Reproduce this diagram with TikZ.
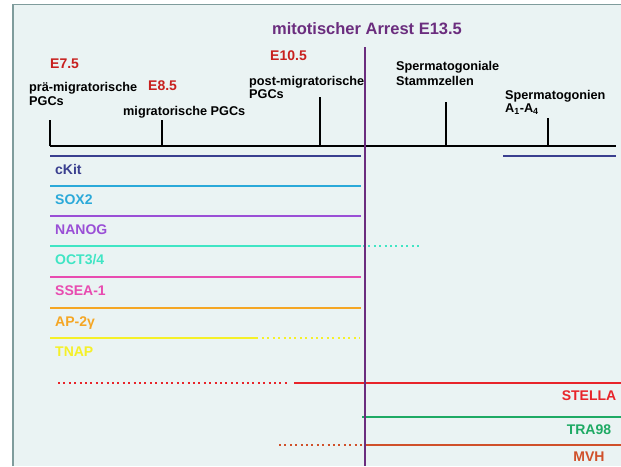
\documentclass[tikz,border=0pt]{standalone}
\usepackage{fontspec}
\setmainfont{Liberation Sans}
\definecolor{slidebg}{RGB}{234,243,243}
\definecolor{slideframe}{RGB}{127,156,156}
\definecolor{arrest}{RGB}{107,45,126}
\definecolor{daycol}{RGB}{200,32,30}
\definecolor{ckitcol}{RGB}{58,63,143}
\definecolor{soxcol}{RGB}{42,169,217}
\definecolor{nanogcol}{RGB}{154,79,214}
\definecolor{octcol}{RGB}{64,229,196}
\definecolor{sseacol}{RGB}{232,75,176}
\definecolor{apcol}{RGB}{245,166,35}
\definecolor{tnapcol}{RGB}{245,240,40}
\definecolor{stellacol}{RGB}{232,36,42}
\definecolor{tracol}{RGB}{30,170,100}
\definecolor{mvhcol}{RGB}{208,80,42}

\begin{document}
\begin{tikzpicture}[x=1pt,y=-1pt,
	stagelbl/.style={font=\fontsize{12.7}{15}\selectfont\bfseries, anchor=base west, inner sep=0pt},
	daylbl/.style={font=\fontsize{14}{16}\selectfont\bfseries, text=daycol, anchor=base west, inner sep=0pt},
	markerlbl/.style={font=\fontsize{14}{16}\selectfont\bfseries, anchor=base west, inner sep=0pt},
	expr/.style={line width=2.2pt},
	weak/.style={line width=2.2pt, dash pattern=on 2pt off 3.4pt}]
	\useasboundingbox (0,0) rectangle (621,466);
	\fill[slidebg] (13,4.5) rectangle (621,466);
	\draw[slideframe, line width=1.3pt] (13,466) -- (13,4.5) -- (621,4.5);

	% time axis
	\coordinate (ax0) at (50,146);
	\coordinate (ax1) at (616,146);
	\draw[line width=1.8pt] (ax0) -- (ax1);
	\foreach \x/\top [count=\i] in {50/120, 162/120, 320/97, 446/102, 548/118}
		\draw[line width=1.8pt] (\x,146) coordinate (tick\i) -- (\x,\top);

	\node[daylbl] (e75) at (50,68) {E7.5};
	\node[stagelbl] (pre1) at (29,91.5) {prä-migratorische};
	\node[stagelbl] (pre2) at (29,105.5) {PGCs};
	\node[daylbl] (e85) at (148,90.7) {E8.5};
	\node[stagelbl] (mig) at (123,115) {migratorische PGCs};
	\node[daylbl] (e105) at (270,60.7) {E10.5};
	\node[stagelbl] (post1) at (249,85) {post-migratorische};
	\node[stagelbl] (post2) at (249,98.5) {PGCs};
	\node[stagelbl] (ssc1) at (396,70) {Spermatogoniale};
	\node[stagelbl] (ssc2) at (396,85) {Stammzellen};
	\node[stagelbl] (spg1) at (505,99.3) {Spermatogonien};
	\node[stagelbl] (spg2) at (505,112.7) {A\textsubscript{1}-A\textsubscript{4}};

	% markers up to the arrest
	\foreach \y/\col/\lab [count=\i] in {156/ckitcol/cKit, 186/soxcol/SOX2, 216/nanogcol/NANOG,
			246/octcol/{OCT3/4}, 277/sseacol/SSEA-1, 308/apcol/AP-2γ}{
		\draw[expr, \col] (50,\y) coordinate (m\i) -- (361,\y);
		\node[markerlbl, text=\col] (lbl\i) at (55,\y+18.5) {\lab};
	}
	\draw[expr, ckitcol] (503,156) -- (616,156);
	\draw[weak, octcol] (363,246) -- (422,246);
	\draw[expr, tnapcol] (50,338) coordinate (m7) -- (258,338);
	\draw[weak, tnapcol] (262,338) -- (360,338);
	\node[markerlbl, text=tnapcol] (lbl7) at (55,356.5) {TNAP};

	% markers after the arrest
	\draw[weak, stellacol] (58,383) -- (289,383);
	\draw[expr, stellacol] (294,383) -- (621,383);
	\node[markerlbl, text=stellacol, anchor=base] (stella) at (589,400.7) {STELLA};
	\draw[expr, tracol] (362,417) -- (621,417);
	\node[markerlbl, text=tracol, anchor=base] (tra) at (589,434) {TRA98};
	\draw[weak, mvhcol] (279,445) -- (363,445);
	\draw[expr, mvhcol] (365,445) -- (621,445);
	\node[markerlbl, text=mvhcol, anchor=base] (mvh) at (589,461.7) {MVH};

	% mitotic arrest
	\coordinate (arrtop) at (365,47);
	\coordinate (arrbot) at (365,466);
	\draw[arrest, line width=2.4pt] (arrtop) -- (arrbot);
	\node[font=\fontsize{16.5}{18}\selectfont\bfseries, text=arrest, anchor=base] (title) at (367,34) {mitotischer Arrest E13.5};
\end{tikzpicture}
\end{document}
